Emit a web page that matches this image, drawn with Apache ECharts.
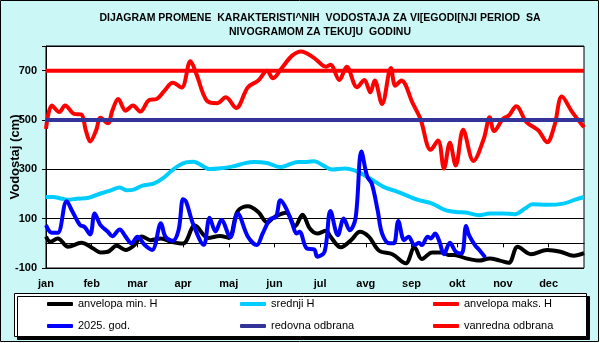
<!DOCTYPE html>
<html>
<head>
<meta charset="utf-8">
<script src="https://cdn.jsdelivr.net/npm/echarts@6/dist/echarts.min.js"></script>
<style>
html,body{margin:0;padding:0;background:#fff;}
#c{width:600px;height:343px;}
</style>
</head>
<body>
<div id="c"></div>
<script>
// ---- data (day of year, value in cm) ----
const months = ['jan','feb','mar','apr','maj','jun','jul','avg','sep','okt','nov','dec'];
const titleText = 'DIJAGRAM PROMENE  KARAKTERISTI^NIH  VODOSTAJA ZA VI[EGODI[NJI PERIOD  SA\nNIVOGRAMOM ZA TEKU]U  GODINU';
const seriesNames = ['anvelopa min. H','srednji H','anvelopa maks. H','2025. god.','redovna odbrana','vanredna odbrana'];

const minDays = [0,3,8,15,24,32,37,42,48,54,60,65,71,78,85,93,101,110,118,124,130,137,144,150,155,163,169,174,179,184,190,193,200,207,213,219,226,235,244,250,255,262,269,273,277,285,294,301,308,314,320,329,340,349,358,365];
const minVals = [27,6,20,-14,2,-21,-37,-34,-10,-27,-7,28,13,20,6,-1,72,22,30,22,130,150,127,85,107,124,69,116,60,40,51,27,-16,13,47,27,-30,-44,-81,-16,-64,-37,-37,-47,-47,-61,-70,-61,-70,-79,-14,-44,-27,-34,-50,-40];

const meanDays = [0,5,10,15,21,29,37,44,50,55,60,65,73,79,85,90,95,100,105,111,117,127,135,141,150,159,166,171,177,182,188,194,203,212,220,229,239,247,253,262,270,278,285,294,301,310,318,325,330,340,351,359,365];
const meanVals = [188,188,182,177,181,185,202,215,226,215,219,233,242,262,293,315,328,331,318,301,303,312,325,330,326,309,322,330,330,333,316,299,303,289,262,229,208,188,175,161,137,127,125,114,121,121,118,141,158,156,161,177,188];

const maxDays = [0,4,9,13,19,24,27,30,34,37,42,45,49,54,59,64,70,75,80,86,92,98,102,109,116,122,129,137,144,150,154,160,167,173,182,190,193,199,204,211,216,220,223,228,234,237,241,249,254,261,266,270,274,278,283,290,297,301,304,310,314,319,326,334,340,345,350,357,365];
const maxVals = [464,559,532,559,525,522,458,413,458,509,487,538,585,538,559,534,581,585,616,651,632,738,687,579,568,592,549,633,660,700,669,711,761,778,751,716,724,662,716,633,662,612,660,565,711,639,660,565,505,379,417,303,408,316,460,334,424,511,455,505,518,556,491,458,410,478,595,532,471];

const curDays = [0,4,8,14,18,23,26,30,33,37,42,45,50,54,58,62,67,72,78,81,86,90,93,95,100,107,111,115,119,125,130,137,143,147,152,156,159,163,167,170,172,177,182,184,189,193,198,202,206,210,214,218,221,225,228,233,236,239,243,246,250,253,255,259,261,264,267,270,274,278,282,285,287,291,294,298];
const curVals = [74,43,43,171,128,74,67,36,121,74,47,29,56,27,0,27,-7,-27,81,27,10,55,179,170,75,-6,104,48,95,25,121,27,-7,40,98,107,175,141,81,40,47,-21,-25,-54,-34,131,33,101,53,101,372,269,242,134,40,0,0,91,13,27,-7,2,-7,27,20,40,6,-44,2,-34,-41,70,33,-7,-27,-57];

const yearStart = 0, yearEnd = 365;
const redovna = 500, vanredna = 700;

function pairs(d, v){ return d.map((x,i)=>[x, v[i]]); }

const chart = echarts.init(document.getElementById('c'), null, {renderer:'canvas'});
const FONT = 'Arial, "Liberation Sans", sans-serif';

const legendBase = {
  orient:'vertical', top:297, itemWidth:26, itemHeight:4, icon:'roundRect', itemGap:8, z:20,
  padding:0,
  textStyle:{fontSize:11, color:'#000', fontFamily:FONT, lineHeight:14}, selectedMode:false
};

chart.setOption({
  animation:false,
  backgroundColor:'transparent',
  textStyle:{fontFamily:FONT},
  title:{
    text:titleText, left:320, top:11, textAlign:'center', padding:0,
    textStyle:{fontSize:10.5, fontWeight:'bold', color:'#000', lineHeight:14, fontFamily:FONT}
  },
  graphic:[
    {type:'rect', z:-100, shape:{x:0.5,y:0.5,width:598,height:341}, style:{fill:'#cbf7f7', stroke:'#000', lineWidth:1}},
    {type:'rect', z:5, shape:{x:14.5,y:293.5,width:572,height:43}, style:{fill:'#fff', stroke:'#000', lineWidth:1, shadowColor:'#000', shadowOffsetX:3, shadowOffsetY:3, shadowBlur:0}}
  ],
  legend:[
    Object.assign({}, legendBase, {left:47, data:[seriesNames[0], seriesNames[3]]}),
    Object.assign({}, legendBase, {left:240, data:[seriesNames[1], seriesNames[4]]}),
    Object.assign({}, legendBase, {left:433, data:[seriesNames[2], seriesNames[5]]})
  ],
  grid:{left:46, right:16, top:46, bottom:75, show:true, backgroundColor:'#fff', borderColor:'#000', borderWidth:1, containLabel:false, outerBoundsMode:'none'},
  xAxis:{
    type:'value', min:yearStart, max:yearEnd, interval:31,
    axisLine:{show:true, lineStyle:{color:'#000', width:1}},
    axisTick:{show:true, length:4, lineStyle:{color:'#000'}},
    splitLine:{show:false},
    axisLabel:{color:'#000', fontSize:11, fontWeight:'bold', margin:10, showMaxLabel:false,
      formatter:v => v < yearEnd ? months[Math.round(v/31)] : ''}
  },
  yAxis:{
    type:'value', min:-100, max:800, interval:200,
    name:'Vodostaj (cm)', nameLocation:'middle', nameGap:24, nameMoveOverlap:false,
    nameTextStyle:{fontSize:13, fontWeight:'bold', color:'#000', fontFamily:FONT},
    axisLine:{show:true, lineStyle:{color:'#000', width:1}},
    axisTick:{show:true, length:4, lineStyle:{color:'#000'}},
    splitLine:{show:true, lineStyle:{color:'#000', width:1}},
    axisLabel:{color:'#000', fontSize:11, fontWeight:'bold', margin:9,
      formatter:v => v === 800 ? '' : String(v)}
  },
  series:[
    {name:seriesNames[0], type:'line', data:pairs(minDays,minVals), smooth:0.35, symbol:'none', lineStyle:{width:4, color:'#000'}, itemStyle:{color:'#000'}},
    {name:seriesNames[1], type:'line', data:pairs(meanDays,meanVals), smooth:0.35, symbol:'none', lineStyle:{width:4, color:'#00ccff'}, itemStyle:{color:'#00ccff'}},
    {name:seriesNames[2], type:'line', data:pairs(maxDays,maxVals), smooth:0.35, symbol:'none', lineStyle:{width:4, color:'#ff0000'}, itemStyle:{color:'#ff0000'}},
    {name:seriesNames[3], type:'line', data:pairs(curDays,curVals), smooth:0.35, symbol:'none', lineStyle:{width:4, color:'#0000ff'}, itemStyle:{color:'#0000ff'}},
    {name:seriesNames[4], type:'line', data:[[yearStart,redovna],[yearEnd,redovna]], symbol:'none', lineStyle:{width:4, color:'#333399'}, itemStyle:{color:'#333399'}},
    {name:seriesNames[5], type:'line', data:[[yearStart,vanredna],[yearEnd,vanredna]], symbol:'none', lineStyle:{width:4, color:'#ff0000'}, itemStyle:{color:'#ff0000'}}
  ]
});
</script>
</body>
</html>
